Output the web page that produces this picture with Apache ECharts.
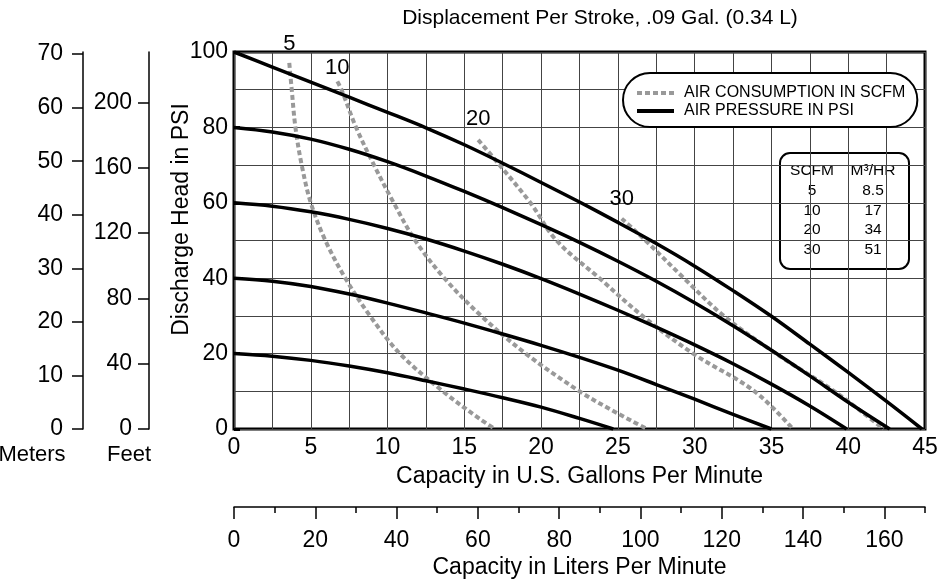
<!DOCTYPE html>
<html><head><meta charset="utf-8">
<script src="https://cdn.jsdelivr.net/npm/echarts@6/dist/echarts.min.js"></script>
<style>html,body{margin:0;padding:0;background:#fff}#c{width:950px;height:579px}</style>
</head><body><div id="c"></div>
<script>
// ---- data (x = US gal/min, y = PSI) ----
const pressure100 = [[0,100],[2.5,96],[5,92],[7.5,88],[10,84],[12.5,79.9],[15,75.4],[17.5,70.5],[20,65.4],[22.5,60.2],[25,54.8],[27.5,49.2],[30,43.2],[32.5,36.7],[35,29.9],[37.5,22.5],[40,15],[42.5,7.3],[44.8,0]];
const pressure80 = [[0,80],[2.5,78.8],[5,76.9],[7.5,74.2],[10,70.9],[12.5,67.1],[15,63.0],[17.5,58.7],[20,54.2],[22.5,49.5],[25,44.5],[27.5,39.2],[30,33.5],[32.5,27.4],[35,20.9],[37.5,14.1],[40,7.1],[42.7,0]];
const pressure60 = [[0,60],[2.5,59.1],[5,57.6],[7.5,55.6],[10,53.2],[12.5,50.4],[15,47.2],[17.5,43.7],[20,39.9],[22.5,35.8],[25,31.5],[27.5,27.0],[30,22.3],[32.5,17.3],[35,11.9],[37.5,6.1],[39.9,0]];
const pressure40 = [[0,40],[2.5,39.2],[5,37.8],[7.5,35.8],[10,33.4],[12.5,30.8],[15,28.1],[17.5,25.2],[20,22.2],[22.5,19.0],[25,15.6],[27.5,11.8],[30,7.9],[32.5,3.9],[35,0]];
const pressure20 = [[0,20],[2.5,19.3],[5,18.2],[7.5,16.7],[10,14.9],[12.5,12.8],[15,10.6],[17.5,8.3],[20,5.8],[22.5,2.8],[24.7,0]];

const scfm5 = [[3.6,97.1],[3.76,90],[4.0,80],[4.41,70],[5.0,60],[5.95,50],[7.25,40],[8.86,30],[10.8,20],[13.6,10],[16.0,2.7],[17.0,0]];
const scfm10 = [[6.73,92.2],[7.0,90],[7.95,80],[9.12,70],[10.4,60],[11.8,50],[13.7,40],[16.1,30],[19.0,20],[22.5,10],[24.6,5],[26.9,0]];
const scfm20 = [[15.9,76.7],[17.3,70],[19.3,60],[21.0,50],[23.8,40],[26.6,30],[29.9,20],[33.9,10],[36.4,0]];
const scfm30 = [[25.25,55.8],[26.8,50],[29.3,40],[31.9,30],[35.3,20],[39.1,10],[42.3,0]];
const scfmCurveLabels = ['5','10','20','30'];

const meterTicks = [0,10,20,30,40,50,60,70];
const feetTicks = [0,40,80,120,160,200];

const tableHeader = ['SCFM','M³/HR'];
const tableScfm = ['5','10','20','30'];
const tableM3hr = ['8.5','17','34','51'];

const legendNames = ['AIR CONSUMPTION IN SCFM','AIR PRESSURE IN PSI'];
const titleText = 'Displacement Per Stroke, .09 Gal. (0.34 L)';

// ---- styling ----
const FONT = 'Liberation Sans';
const labelDist = [8, 2, 9.5, 9];
const gridLine = {color:'#444', width:1};

const pressureSets = [pressure100, pressure80, pressure60, pressure40, pressure20];
const scfmSets = [scfm5, scfm10, scfm20, scfm30];

const series = [];
scfmSets.forEach((arr, k) => {
  series.push({
    name: legendNames[0], type:'line', xAxisIndex:0, yAxisIndex:0,
    smooth:0.35, symbol:'circle', symbolSize:0.01, showSymbol:true, showAllSymbol:true, z:3,
    itemStyle:{color:'#999'},
    lineStyle:{color:'#999', width:4, type:[5,3], cap:'butt'},
    label:{show:false},
    labelLayout:{hideOverlap:false},
    data: arr.map((p,i) => i === 0 ? {value:p, label:{show:true, position:'top', distance:labelDist[k],
      formatter: scfmCurveLabels[k], fontSize:22, color:'#000', fontFamily:FONT}} : p)
  });
});
pressureSets.forEach(arr => {
  series.push({
    name: legendNames[1], type:'line', xAxisIndex:0, yAxisIndex:0,
    smooth:0.35, symbol:'none', showSymbol:false, z:4,
    itemStyle:{color:'#000'},
    lineStyle:{color:'#000', width:3.5},
    data: arr
  });
});

const tableChildren = [{type:'rect', shape:{x:0,y:0,width:129,height:116,r:10},
  style:{fill:'#fff', stroke:'#000', lineWidth:2}}];
const rowY = [18, 38, 57.5, 77, 96.5];
const colX = [32, 93];
tableHeader.forEach((t,i) => tableChildren.push({type:'text', x:colX[i], y:rowY[0],
  style:{text:t, align:'center', verticalAlign:'middle', fontSize:15.5, fontFamily:FONT, fill:'#000'}}));
tableScfm.forEach((t,i) => tableChildren.push({type:'text', x:colX[0], y:rowY[i+1],
  style:{text:t, align:'center', verticalAlign:'middle', fontSize:15.5, fontFamily:FONT, fill:'#000'}}));
tableM3hr.forEach((t,i) => tableChildren.push({type:'text', x:colX[1], y:rowY[i+1],
  style:{text:t, align:'center', verticalAlign:'middle', fontSize:15.5, fontFamily:FONT, fill:'#000'}}));

const chart = echarts.init(document.getElementById('c'), null, {renderer:'canvas'});
chart.setOption({
  animation:false,
  backgroundColor:'#fff',
  textStyle:{fontFamily:FONT, color:'#000'},
  title:{text:titleText, left:595, top:3, textAlign:'center',
    textStyle:{fontSize:21, fontWeight:'normal', color:'#000', fontFamily:FONT}},
  legend:{data:legendNames, orient:'vertical', left:623, top:73, selectedMode:false,
    itemWidth:37, itemHeight:14, itemGap:2, backgroundColor:'#fff',
    itemStyle:{opacity:0}, lineStyle:{width:4},
    borderColor:'#000', borderWidth:2, borderRadius:27, padding:[12,12,8,12],
    textStyle:{fontSize:16, color:'#000', fontFamily:FONT, padding:[0,0,0,5]}, z:10},
  grid:{left:234, right:25, top:52, bottom:150, show:true, borderColor:'#000', borderWidth:3,
    backgroundColor:'#fff', containLabel:false, outerBoundsMode:'none'},
  xAxis:[
    {type:'value', min:0, max:45, interval:5, position:'bottom',
      axisLine:{show:false, onZero:false}, axisTick:{show:false},
      minorTick:{show:false, splitNumber:2},
      splitLine:{show:true, lineStyle:gridLine}, minorSplitLine:{show:true, lineStyle:gridLine},
      axisLabel:{fontSize:23, color:'#000', margin:7, fontFamily:FONT},
      name:'Capacity in U.S. Gallons Per Minute', nameLocation:'middle', nameGap:36, nameMoveOverlap:false,
      nameTextStyle:{fontSize:23, color:'#000', fontFamily:FONT}},
    {type:'value', min:0, max:170, interval:20, position:'bottom', offset:78,
      axisLine:{show:true, onZero:false, lineStyle:{color:'#000', width:1.5}},
      axisTick:{show:true, length:12, lineStyle:{color:'#000', width:1.5}},
      splitLine:{show:false},
      axisLabel:{fontSize:23, color:'#000', margin:22, fontFamily:FONT, showMaxLabel:false},
      name:'Capacity in Liters Per Minute', nameLocation:'middle', nameGap:49, nameMoveOverlap:false,
      nameTextStyle:{fontSize:23, color:'#000', fontFamily:FONT}},
    {type:'value', min:0, max:170, interval:10, position:'bottom', offset:78,
      axisLine:{show:false, onZero:false},
      axisTick:{show:true, length:6, lineStyle:{color:'#000', width:1.5}},
      splitLine:{show:false}, axisLabel:{show:false}}
  ],
  yAxis:[
    {type:'value', min:0, max:100, interval:20, position:'left',
      axisLine:{show:false, onZero:false},
      axisTick:{show:true, inside:true, length:6, lineStyle:{color:'#000', width:3}},
      minorTick:{show:false, splitNumber:2},
      splitLine:{show:true, lineStyle:gridLine}, minorSplitLine:{show:true, lineStyle:gridLine},
      axisLabel:{fontSize:23, color:'#000', margin:6, fontFamily:FONT},
      name:'Discharge Head in PSI', nameLocation:'middle', nameGap:41, nameRotate:90, nameMoveOverlap:false,
      nameTextStyle:{fontSize:23, color:'#000', fontFamily:FONT, padding:[0,0,0,42]}},
    {type:'value', min:0, max:231, interval:40, position:'left', offset:85,
      axisLine:{show:true, onZero:false, lineStyle:{color:'#000', width:1.5}},
      axisTick:{show:true, length:11, customValues:feetTicks, lineStyle:{color:'#000', width:1.5}},
      axisLabel:{fontSize:23, color:'#000', margin:17, customValues:feetTicks, fontFamily:FONT},
      splitLine:{show:false},
      name:'Feet', nameLocation:'start', nameGap:15, nameMoveOverlap:false,
      nameTextStyle:{fontSize:22, color:'#000', fontFamily:FONT, padding:[0,40,0,0]}},
    {type:'value', min:0, max:70.4, interval:10, position:'left', offset:151,
      axisLine:{show:true, onZero:false, lineStyle:{color:'#000', width:1.5}},
      axisTick:{show:true, length:11, customValues:meterTicks, lineStyle:{color:'#000', width:1.5}},
      axisLabel:{fontSize:23, color:'#000', margin:20, customValues:meterTicks, fontFamily:FONT},
      splitLine:{show:false},
      name:'Meters', nameLocation:'start', nameGap:15, nameMoveOverlap:false,
      nameTextStyle:{fontSize:22, color:'#000', fontFamily:FONT, padding:[0,102,0,0]}}
  ],
  graphic:[{type:'group', left:779, top:152, z:20, children:tableChildren}],
  series: series
});
</script></body></html>
